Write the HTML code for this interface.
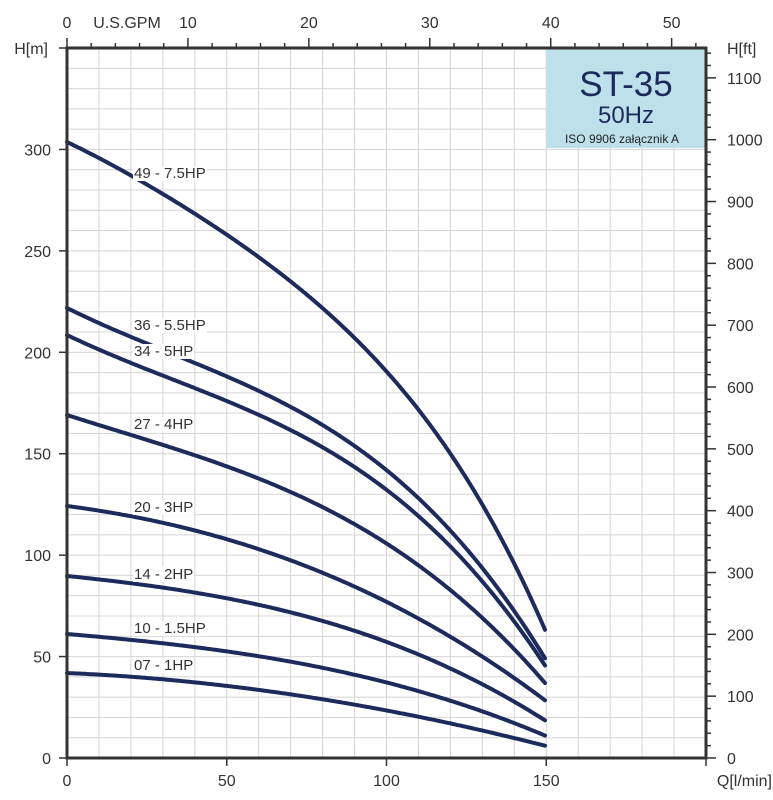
<!DOCTYPE html>
<html><head><meta charset="utf-8"><style>
html,body{margin:0;padding:0;background:#fff;}
svg{display:block;font-family:"Liberation Sans",sans-serif;}
</style></head><body>
<svg id="s" width="773" height="800" viewBox="0 0 773 800" xmlns="http://www.w3.org/2000/svg">
<g id="grid" stroke="#d4d4d4" stroke-width="1"></g>
<rect x="546" y="48" width="159" height="100" fill="#bde0ea"/>
<text x="626" y="96" font-size="35" fill="#1c2a5c" text-anchor="middle">ST-35</text>
<text x="626" y="123" font-size="24" fill="#1c2a5c" text-anchor="middle">50Hz</text>
<text x="622" y="143" font-size="12" fill="#222" text-anchor="middle">ISO 9906 załącznik A</text>
<g id="ticks" stroke="#333" stroke-width="1.5"></g>
<g id="curves" fill="none" stroke="#1c2a5c" stroke-width="4" stroke-linejoin="round" stroke-linecap="round"></g>
<g id="bg" fill="#fff"></g>
<g id="cl" font-size="15" fill="#333">
<text x="134" y="178">49 - 7.5HP</text>
<text x="134" y="330">36 - 5.5HP</text>
<text x="134" y="356">34 - 5HP</text>
<text x="134" y="429">27 - 4HP</text>
<text x="134" y="512">20 - 3HP</text>
<text x="134" y="579">14 - 2HP</text>
<text x="134" y="633">10 - 1.5HP</text>
<text x="134" y="670">07 - 1HP</text>
</g>
<g stroke="#333" stroke-width="3" fill="none"><rect x="67" y="48" width="639" height="710"/></g>
<g id="lbl" font-size="16" fill="#333"></g>
</svg>
<script>
var ns="http://www.w3.org/2000/svg";
function el(p,t,a,txt){var e=document.createElementNS(ns,t);for(var k in a)e.setAttribute(k,a[k]);if(txt!=null)e.textContent=txt;document.getElementById(p).appendChild(e);return e;}
var X=function(q){return 67+q*639/200},Y=function(h){return 758-h*710/350};
for(var q=10;q<200;q+=10)el('grid','line',{x1:X(q),x2:X(q),y1:48,y2:758});
for(var h=10;h<350;h+=10)el('grid','line',{x1:67,x2:706,y1:Y(h),y2:Y(h)});
var C=[
[[67,673],[148,678],[228,686],[308,697],[388,711],[468,727],[546,746]],
[[67,634],[148,641],[228,652],[308,665],[388,683],[468,706],[546,736]],
[[67,576],[148,585],[228,597],[300,617],[350,630],[410,650],[480,682],[546,721]],
[[67,506],[148,520],[228,540],[300,565],[350,582],[400,607],[450,640],[546,701]],
[[67,415],[190,455],[250,475],[300,497],[350,520],[400,550],[450,590],[500,640],[546,684]],
[[67,335],[188,385],[250,412],[300,435],[350,463],[400,500],[450,547],[500,603],[533,648],[546,667]],
[[67,308],[160,347],[230,378],[300,413],[350,443],[400,483],[450,530],[500,587],[533,640],[546,660]],
[[67,142],[148,185],[228,235],[300,290],[367,352],[412,400],[450,450],[483,507],[517,573],[546,632]]];
function fit(p,deg){var n=deg+1,A=[],b=[];for(var i=0;i<n;i++){A.push(new Array(n).fill(0));b.push(0);}
p.forEach(function(pt,k){var t=(pt[0]-67)/479,w=(k==0||k==p.length-1)?20:1;var pw=[];for(var i=0;i<n;i++)pw.push(Math.pow(t,i));
for(var i=0;i<n;i++){b[i]+=w*pw[i]*pt[1];for(var j=0;j<n;j++)A[i][j]+=w*pw[i]*pw[j];}});
for(var i=0;i<n;i++){for(var k=i+1;k<n;k++){var f=A[k][i]/A[i][i];for(var j=i;j<n;j++)A[k][j]-=f*A[i][j];b[k]-=f*b[i];}}
var c=new Array(n);for(var i=n-1;i>=0;i--){var s=b[i];for(var j=i+1;j<n;j++)s-=A[i][j]*c[j];c[i]=s/A[i][i];}return c;}
C.forEach(function(p,idx){var c=fit(p,idx==7?4:3);var d='';for(var x=67;x<=546;x+=2){var t=(x-67)/479,y=0;for(var i=0;i<c.length;i++)y+=c[i]*Math.pow(t,i);d+=(d?' L':'M')+x+','+y.toFixed(1);}
el('curves','path',{d:d});});
Array.prototype.forEach.call(document.querySelectorAll('#cl text'),function(t){var b=t.getBBox();el('bg','rect',{x:b.x-1,y:b.y+1,width:b.width+2,height:b.height-2});});
for(var q=0;q<=200;q+=50){el('ticks','line',{x1:X(q),x2:X(q),y1:758,y2:766});if(q<200)el('lbl','text',{x:X(q),y:786,'text-anchor':'middle'},q);}
el('lbl','text',{x:772,y:786,'text-anchor':'end'},'Q[l/min]');
for(var h=0;h<=300;h+=50){el('ticks','line',{x1:59,x2:67,y1:Y(h),y2:Y(h)});el('lbl','text',{x:51,y:Y(h)+6,'text-anchor':'end'},h);}
el('ticks','line',{x1:59,x2:67,y1:48,y2:48});
el('lbl','text',{x:48,y:54,'text-anchor':'end'},'H[m]');
var fp=710/350*0.3048;
for(var f=0;f<=1140;f+=20){var y=758-f*fp;if(y<48)break;var big=f%100==0;el('ticks','line',{x1:706,x2:big?716:711,y1:y,y2:y});if(big)el('lbl','text',{x:727,y:y+6},f);}
el('lbl','text',{x:727,y:54},'H[ft]');
var gp=3.785*639/200;
for(var g=0;g<=52;g+=2){var x=67+g*gp;var big=g%10==0;el('ticks','line',{x1:x,x2:x,y1:48,y2:big?38:43});if(big)el('lbl','text',{x:x,y:28,'text-anchor':'middle'},g);}
el('lbl','text',{x:127,y:28,'text-anchor':'middle'},'U.S.GPM');
</script>
</body></html>
